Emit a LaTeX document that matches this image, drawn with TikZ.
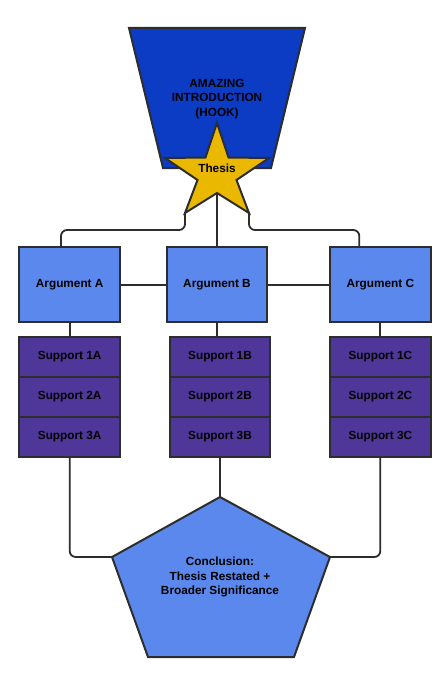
\documentclass[tikz,border=0pt]{standalone}
\usepackage{fontspec}
\setmainfont{Liberation Sans}
\definecolor{introblue}{HTML}{0C3BC4}
\definecolor{argblue}{HTML}{5A88EC}
\definecolor{suppurple}{HTML}{4F3799}
\definecolor{stargold}{HTML}{EBB800}
\definecolor{edge}{HTML}{2D2D2D}
\pgfdeclarelayer{bg}
\pgfsetlayers{bg,main}
\begin{document}
\begin{tikzpicture}[x=1pt,y=-1pt,
  txt/.style={font=\fontsize{11.8}{14.2}\selectfont\bfseries, text=black, align=center},
  argbox/.style={txt, draw=edge, line width=2pt, fill=argblue, minimum width=100.7pt, minimum height=75pt, inner sep=0pt},
  supbox/.style={txt, draw=edge, line width=2pt, fill=suppurple, minimum width=100.7pt, minimum height=40pt, inner sep=0pt},
  shapeline/.style={draw=edge, line width=2pt, line join=miter},
  conn/.style={draw=edge, line width=1.8pt, rounded corners=6pt}]
\useasboundingbox (0,0) rectangle (447,677);

% named corner coordinates of hand-drawn shapes
\coordinate (sbl) at (185,213);
\coordinate (sbr) at (249,213);
\coordinate (sin) at (217,193);
\coordinate (ptop) at (220,497);
\coordinate (pl) at (112,557);
\coordinate (pr) at (330,557);

% boxes
\node[argbox] (argA) at (69.7,284.8) {Argument A};
\node[argbox] (argB) at (217,284.8) {Argument B};
\node[argbox] (argC) at (380.3,284.8) {Argument C};

\node[supbox] (s1A) at (69.7,357) {Support 1A};
\node[supbox] (s2A) at (69.7,397) {Support 2A};
\node[supbox] (s3A) at (69.7,437) {Support 3A};
\node[supbox] (s1B) at (220,357) {Support 1B};
\node[supbox] (s2B) at (220,397) {Support 2B};
\node[supbox] (s3B) at (220,437) {Support 3B};
\node[supbox] (s1C) at (380.3,357) {Support 1C};
\node[supbox] (s2C) at (380.3,397) {Support 2C};
\node[supbox] (s3C) at (380.3,437) {Support 3C};

% connectors (behind shapes)
\begin{pgfonlayer}{bg}
\draw[conn] (sbl) -- (185,230) -- ([xshift=-8.7pt]argA.north |- 0,230) -- ([xshift=-8.7pt]argA.north);
\draw[conn] (sbr) -- (249,230) -- ([xshift=-21pt]argC.north |- 0,230) -- ([xshift=-21pt]argC.north);
\draw[conn] (sin) -- (argB.north);
\draw[conn] (argA.east) -- (argB.west);
\draw[conn] (argB.east) -- (argC.west);
\draw[conn] (argA.south) -- (s1A.north);
\draw[conn] (argB.south) -- ([xshift=-3pt]s1B.north);
\draw[conn] (argC.south) -- (s1C.north);
\draw[conn] (s3A.south) |- (pl);
\draw[conn] (s3B.south) -- (ptop);
\draw[conn] (s3C.south) |- (pr);
\end{pgfonlayer}

% introduction trapezoid
\draw[shapeline, fill=introblue] (129,28) -- (305,28) -- (271,168) -- (163,168) -- cycle;
\node[txt] (intro) at (217,99) {AMAZING\\INTRODUCTION\\(HOOK)};

% thesis star
\draw[shapeline, fill=stargold] (217,123) -- (228.5,157.5) -- (269,158) -- (236.5,180) -- (sbr) -- (sin) -- (sbl) -- (197.5,180) -- (165,158) -- (205.5,157.5) -- cycle;
\node[txt] (thesis) at (217,168.5) {Thesis};

% conclusion pentagon
\draw[shapeline, fill=argblue] (ptop) -- (pr) -- (294,657) -- (148,657) -- (pl) -- cycle;
\node[txt] (concl) at (220,577) {Conclusion:\\Thesis Restated +\\Broader Significance};
\end{tikzpicture}
\end{document}
